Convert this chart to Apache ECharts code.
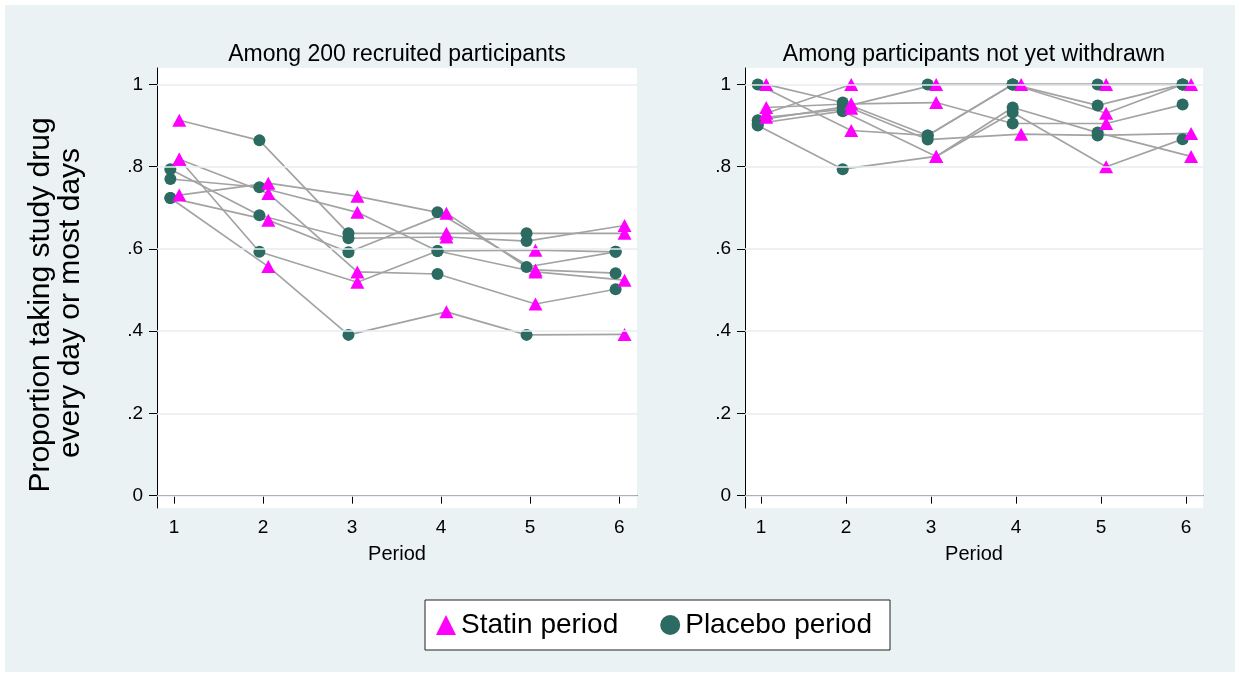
<!DOCTYPE html>
<html>
<head>
<meta charset="utf-8">
<script src="https://cdn.jsdelivr.net/npm/echarts@6/dist/echarts.min.js"></script>
<style>
  html, body { margin: 0; padding: 0; background: #fff; }
  #frame { position: absolute; left: 5px; top: 5px; width: 1230px; height: 667px; background: #eaf2f3; }
  #chart { position: absolute; left: 0; top: 0; width: 1240px; height: 677px; }
</style>
</head>
<body>
<div id="frame"></div>
<div id="chart"></div>
<script>
const periods = [1, 2, 3, 4, 5, 6];
const yTicks = [0, 0.2, 0.4, 0.6, 0.8, 1];
const yTickLabels = ['0', '.2', '.4', '.6', '.8', '1'];

// one row per sequence; arms: S = statin period, P = placebo period
const recruitedValues = [
  [0.913, 0.864, 0.638, 0.638, 0.638, 0.638],
  [0.731, 0.760, 0.728, 0.689, 0.549, 0.541],
  [0.818, 0.593, 0.519, 0.595, 0.597, 0.593],
  [0.818, 0.735, 0.544, 0.539, 0.466, 0.502],
  [0.770, 0.750, 0.689, 0.595, 0.544, 0.524],
  [0.724, 0.557, 0.391, 0.447, 0.391, 0.392],
  [0.794, 0.682, 0.626, 0.629, 0.619, 0.657],
  [0.724, 0.670, 0.592, 0.687, 0.556, 0.593]
];
const recruitedArms = ['SPPSPS', 'SSSPSP', 'SPSPSP', 'SSSPSP', 'PPSPSS', 'PSPSPS', 'PPPSPS', 'PSPSPP'];

const remainingValues = [
  [1.000, 0.888, 0.876, 1.000, 0.949, 1.000],
  [1.000, 0.956, 0.876, 1.000, 0.930, 1.000],
  [0.930, 1.000, 1.000, 1.000, 1.000, 1.000],
  [0.913, 0.945, 1.000, 1.000, 1.000, 1.000],
  [0.944, 0.953, 0.956, 0.905, 0.905, 0.951],
  [0.905, 0.935, 0.825, 0.944, 0.883, 0.825],
  [0.920, 0.942, 0.866, 0.879, 0.876, 0.881],
  [0.900, 0.794, 0.825, 0.932, 0.800, 0.867]
];
const remainingArms = ['PSPPPP', 'SPPPSP', 'SSPSPS', 'PPSPSP', 'SSSPSP', 'PPSPPS', 'SSPSPS', 'PPSPSP'];

const panelTitles = ['Among 200 recruited participants', 'Among participants not yet withdrawn'];

// markers are nudged sideways so the two arms don't sit on top of each other
const shift = { S: 0.06, P: -0.04 };
const FONT = "'Liberation Sans', Arial, sans-serif";

const chart = echarts.init(document.getElementById('chart'));

const grids = [
  { left: 157, top: 68, width: 480, height: 440 },
  { left: 745, top: 68, width: 458, height: 440 }
];

const xAxes = grids.map((g, i) => ({
  type: 'value', gridIndex: i, min: 0.81, max: 6.2,
  name: 'Period', nameLocation: 'middle', nameGap: 36,
  nameTextStyle: { fontSize: 20, color: '#000', fontFamily: FONT },
  axisLine: { show: true, lineStyle: { color: '#000', width: 1 } },
  axisTick: { show: true, length: 8, customValues: periods, lineStyle: { color: '#000' } },
  axisLabel: { customValues: periods, fontSize: 19, color: '#000', fontFamily: FONT, margin: 10 },
  splitLine: { show: false }
}));

const yAxes = grids.map((g, i) => ({
  type: 'value', gridIndex: i, min: -0.03, max: 1.04,
  axisLine: { show: true, lineStyle: { color: '#000', width: 1 } },
  axisTick: { show: true, length: 8, customValues: yTicks, lineStyle: { color: '#000' } },
  axisLabel: {
    customValues: yTicks, fontSize: 19, color: '#000', fontFamily: FONT, margin: 14,
    formatter: v => yTickLabels[yTicks.findIndex(t => Math.abs(t - v) < 1e-6)]
  },
  splitLine: { show: false }
}));

const series = [];
[[recruitedValues, recruitedArms], [remainingValues, remainingArms]].forEach(([vals, arms], p) => {
  // gridlines
  series.push({
    type: 'line', xAxisIndex: p, yAxisIndex: p, data: [], z: 1, silent: true,
    markLine: {
      silent: true, symbol: 'none', label: { show: false }, animation: false,
      lineStyle: { color: '#e4edf0', width: 1.5, type: 'solid' },
      data: yTicks.map(v => ({ yAxis: v }))
    }
  });
  const statin = [], placebo = [];
  vals.forEach((row, k) => {
    const pts = row.map((v, j) => [periods[j] + shift[arms[k][j]], v]);
    series.push({
      type: 'line', xAxisIndex: p, yAxisIndex: p, data: pts, symbol: 'none', silent: true, z: 2,
      lineStyle: { color: '#a3a3a3', width: 1.7 }
    });
    pts.forEach((pt, j) => (arms[k][j] === 'S' ? statin : placebo).push(pt));
  });
  series.push({
    name: 'Placebo period', type: 'scatter', xAxisIndex: p, yAxisIndex: p, data: placebo,
    symbol: 'circle', symbolSize: 12, z: 3, itemStyle: { color: '#2c6b61', opacity: 1 }
  });
  series.push({
    name: 'Statin period', type: 'scatter', xAxisIndex: p, yAxisIndex: p, data: statin,
    symbol: 'triangle', symbolSize: [14, 13], z: 4, itemStyle: { color: '#ff00ff', opacity: 1 }
  });
});

chart.setOption({
  animation: false,
  backgroundColor: 'transparent',
  grid: grids.map(g => Object.assign({ show: true, backgroundColor: '#fff', borderWidth: 0 }, g)),
  xAxis: xAxes,
  yAxis: yAxes,
  legend: {
    data: ['Statin period', 'Placebo period'],
    left: 425, top: 600,
    orient: 'horizontal',
    padding: [11, 18, 11, 11],
    itemGap: 42, itemWidth: 20, itemHeight: 20,
    backgroundColor: '#fff', borderColor: '#222', borderWidth: 1, borderRadius: 0,
    textStyle: { fontSize: 28, color: '#000', fontFamily: FONT },
    selectedMode: false
  },
  graphic: [
    { type: 'text', x: 397, y: 55, style: { text: panelTitles[0], align: 'center', verticalAlign: 'middle', fontSize: 23, fontFamily: FONT, fill: '#000' } },
    { type: 'text', x: 974, y: 55, style: { text: panelTitles[1], align: 'center', verticalAlign: 'middle', fontSize: 23, fontFamily: FONT, fill: '#000' } },
    { type: 'text', x: 41, y: 305, rotation: Math.PI / 2, style: { text: 'Proportion taking study drug', align: 'center', verticalAlign: 'middle', fontSize: 30, fontFamily: FONT, fill: '#000' } },
    { type: 'text', x: 71, y: 303, rotation: Math.PI / 2, style: { text: 'every day or most days', align: 'center', verticalAlign: 'middle', fontSize: 30, fontFamily: FONT, fill: '#000' } }
  ],
  series: series
});
</script>
</body>
</html>
